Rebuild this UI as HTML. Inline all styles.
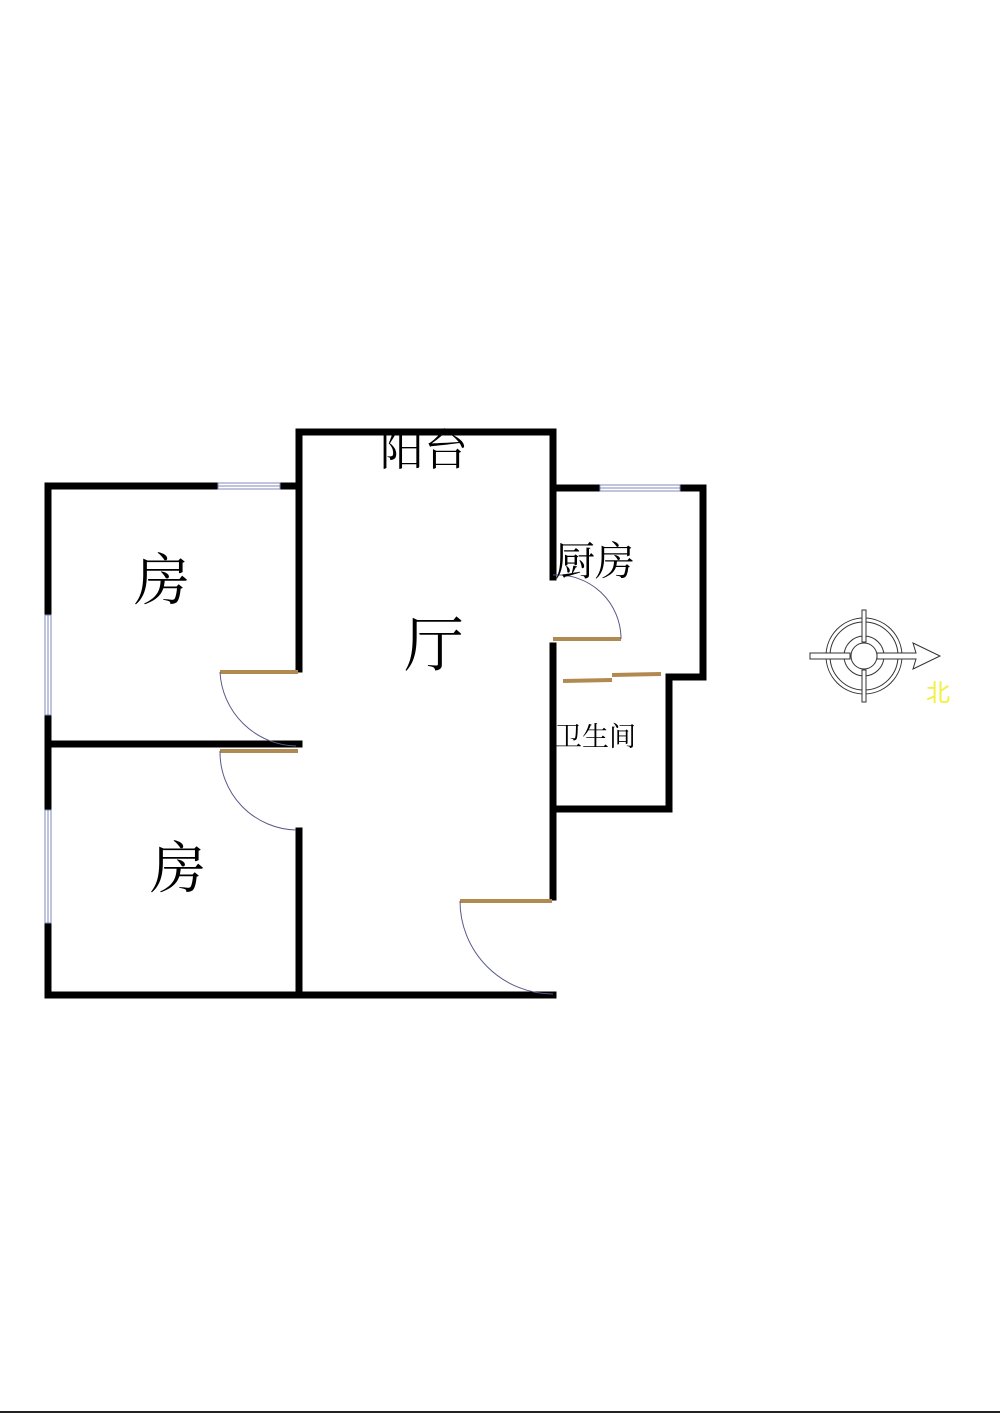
<!DOCTYPE html>
<html><head><meta charset="utf-8"><style>
html,body{margin:0;padding:0;background:#fff;}
svg{display:block;}
text{font-family:"Liberation Serif","Noto Serif CJK SC","Noto Sans CJK SC",serif;fill:#000;}
</style></head><body>
<svg width="1000" height="1413" viewBox="0 0 1000 1413" xmlns="http://www.w3.org/2000/svg">
<rect width="1000" height="1413" fill="#fff"/>
<g stroke="#000" stroke-width="7" fill="none" stroke-linecap="square">
<line x1="48" y1="486" x2="218" y2="486"/>
<line x1="280" y1="486" x2="299" y2="486"/>
<line x1="48" y1="486" x2="48" y2="615"/>
<line x1="48" y1="715" x2="48" y2="810"/>
<line x1="48" y1="923" x2="48" y2="995"/>
<line x1="48" y1="744" x2="299" y2="744"/>
<line x1="299" y1="432" x2="299" y2="669"/>
<line x1="299" y1="831" x2="299" y2="995"/>
<line x1="48" y1="995" x2="553" y2="995"/>
<line x1="299" y1="432" x2="553" y2="432"/>
<line x1="553" y1="432" x2="553" y2="577"/>
<line x1="553" y1="646" x2="553" y2="897"/>
<line x1="553" y1="488" x2="600" y2="488"/>
<line x1="680" y1="488" x2="703" y2="488"/>
<line x1="703" y1="488" x2="703" y2="677"/>
<line x1="669" y1="677" x2="703" y2="677"/>
<line x1="669" y1="677" x2="669" y2="809"/>
<line x1="553" y1="809" x2="669" y2="809"/>
</g>
<g stroke="#8088b8" stroke-width="1" fill="#fff">
<rect x="218" y="483" width="62" height="6"/>
<line x1="218" y1="486" x2="280" y2="486"/>
<rect x="45" y="615" width="6" height="100"/>
<line x1="48" y1="615" x2="48" y2="715"/>
<rect x="45" y="810" width="6" height="113"/>
<line x1="48" y1="810" x2="48" y2="923"/>
<rect x="600" y="485" width="80" height="6"/>
<line x1="600" y1="488" x2="680" y2="488"/>
</g>
<g stroke="#b08a50" stroke-width="4">
<line x1="220" y1="672" x2="298" y2="672"/>
<line x1="220" y1="751" x2="298" y2="751"/>
<line x1="460" y1="901" x2="552" y2="901"/>
<line x1="553" y1="639" x2="621" y2="639"/>
<line x1="563" y1="681" x2="612" y2="680"/>
<line x1="612" y1="675" x2="661" y2="674"/>
</g>
<g stroke="#5a5a8a" stroke-width="1" fill="none">
<path d="M220 672 A78 78 0 0 0 296 746"/>
<path d="M220 751 A78 78 0 0 0 296 830"/>
<path d="M460 901 A93 93 0 0 0 553 994"/>
<path d="M553 575 A64 64 0 0 1 621 639"/>
</g>
<text x="380" y="465" font-size="44">阳台</text>
<text x="134" y="600" font-size="56">房</text>
<text x="150" y="888" font-size="56">房</text>
<text x="404" y="666" font-size="60">厅</text>
<text x="555" y="575" font-size="40">厨房</text>
<text x="555" y="746" font-size="27">卫生间</text>
<g stroke="#333" stroke-width="1" fill="#fff">
<circle cx="864" cy="656" r="38"/>
<circle cx="864" cy="656" r="34"/>
<circle cx="864" cy="656" r="20"/>
<circle cx="864" cy="656" r="13"/>
<path d="M810 653 L850 653 L850 659 L810 659 Z"/>
<path d="M877 653 L916 653 L913 643 L940 656 L913 669 L916 659 L877 659 Z"/>
<path d="M862 610 L866 610 L866 642 L862 642 Z"/>
<path d="M862 670 L866 670 L866 702 L862 702 Z"/>
</g>
<text x="926" y="701" font-size="24" style="fill:#f0f040;font-family:'Noto Sans CJK SC',sans-serif">北</text>
<line x1="0" y1="1412" x2="1000" y2="1412" stroke="#222" stroke-width="2"/>
</svg>
</body></html>
